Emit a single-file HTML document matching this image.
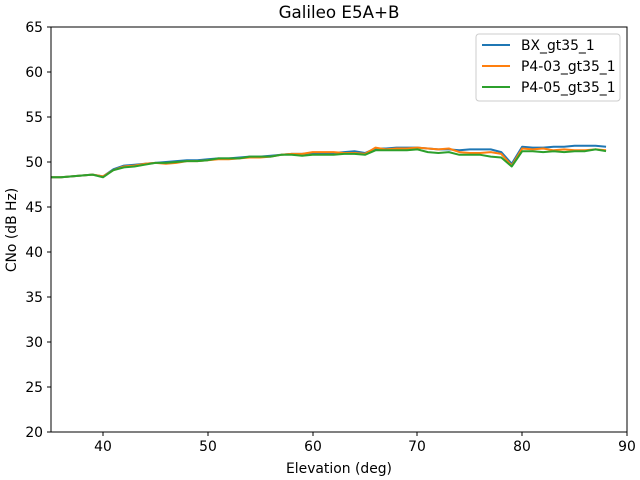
<!DOCTYPE html>
<html><head><meta charset="utf-8"><style>body{margin:0;background:#fff}svg{display:block}text{font-family:"DejaVu Sans","Liberation Sans",sans-serif}</style></head><body>
<svg width="640" height="480" viewBox="0 0 640 480">
<rect width="640" height="480" fill="#fff"/>
<text x="339" y="18" font-size="16.7" text-anchor="middle">Galileo E5A+B</text>
<g fill="none" stroke-width="2" stroke-linejoin="round">
<g transform="translate(103,432) scale(10.48,-9) translate(-40,-20)">
<polyline vector-effect="non-scaling-stroke" stroke="#1f77b4" points="35,48.3 36,48.3 37,48.4 38,48.5 39,48.6 40,48.4 41,49.2 42,49.6 43,49.7 44,49.8 45,49.9 46,50 47,50.1 48,50.2 49,50.2 50,50.3 51,50.4 52,50.4 53,50.5 54,50.6 55,50.6 56,50.7 57,50.8 58,50.9 59,50.9 60,51 61,51 62,51 63,51.1 64,51.2 65,51 66,51.5 67,51.5 68,51.6 69,51.6 70,51.6 71,51.5 72,51.4 73,51.4 74,51.3 75,51.4 76,51.4 77,51.4 78,51.1 79,49.8 80,51.7 81,51.6 82,51.6 83,51.7 84,51.7 85,51.8 86,51.8 87,51.8 88,51.7"/>
<polyline vector-effect="non-scaling-stroke" stroke="#ff7f0e" points="35,48.3 36,48.3 37,48.4 38,48.5 39,48.6 40,48.4 41,49.1 42,49.5 43,49.6 44,49.8 45,49.9 46,49.8 47,49.9 48,50.1 49,50.1 50,50.2 51,50.3 52,50.3 53,50.4 54,50.5 55,50.5 56,50.6 57,50.8 58,50.9 59,50.9 60,51.1 61,51.1 62,51.1 63,51 64,51 65,50.9 66,51.6 67,51.4 68,51.5 69,51.5 70,51.6 71,51.5 72,51.4 73,51.5 74,51.1 75,51.0 76,51.0 77,51.1 78,50.9 79,49.6 80,51.5 81,51.4 82,51.5 83,51.3 84,51.4 85,51.3 86,51.3 87,51.4 88,51.3"/>
<polyline vector-effect="non-scaling-stroke" stroke="#2ca02c" points="35,48.3 36,48.3 37,48.4 38,48.5 39,48.6 40,48.3 41,49.1 42,49.4 43,49.5 44,49.7 45,49.9 46,49.9 47,50 48,50.1 49,50.1 50,50.2 51,50.4 52,50.4 53,50.4 54,50.6 55,50.6 56,50.6 57,50.8 58,50.8 59,50.7 60,50.8 61,50.8 62,50.8 63,50.9 64,50.9 65,50.8 66,51.3 67,51.3 68,51.3 69,51.3 70,51.4 71,51.1 72,51.0 73,51.1 74,50.8 75,50.8 76,50.8 77,50.6 78,50.5 79,49.5 80,51.2 81,51.2 82,51.1 83,51.2 84,51.1 85,51.2 86,51.2 87,51.4 88,51.2"/>
</g></g>
<rect x="51" y="27" width="576" height="405" fill="none" stroke="#000" stroke-width="1"/>
<g stroke="#000" stroke-width="1">
<line x1="103" y1="432" x2="103" y2="436"/><line x1="208" y1="432" x2="208" y2="436"/><line x1="313" y1="432" x2="313" y2="436"/><line x1="417" y1="432" x2="417" y2="436"/><line x1="522" y1="432" x2="522" y2="436"/><line x1="627" y1="432" x2="627" y2="436"/>
<line x1="47" y1="27" x2="51" y2="27"/><line x1="47" y1="72" x2="51" y2="72"/><line x1="47" y1="117" x2="51" y2="117"/><line x1="47" y1="162" x2="51" y2="162"/><line x1="47" y1="207" x2="51" y2="207"/><line x1="47" y1="252" x2="51" y2="252"/><line x1="47" y1="297" x2="51" y2="297"/><line x1="47" y1="342" x2="51" y2="342"/><line x1="47" y1="387" x2="51" y2="387"/><line x1="47" y1="432" x2="51" y2="432"/>
</g>
<g font-size="13.9" text-anchor="middle">
<text x="103" y="451">40</text><text x="208" y="451">50</text><text x="313" y="451">60</text><text x="417" y="451">70</text><text x="522" y="451">80</text><text x="627" y="451">90</text>
<text x="339" y="473">Elevation (deg)</text>
</g>
<g font-size="13.9" text-anchor="end">
<text x="43" y="32">65</text><text x="43" y="77">60</text><text x="43" y="122">55</text><text x="43" y="167">50</text><text x="43" y="212">45</text><text x="43" y="257">40</text><text x="43" y="302">35</text><text x="43" y="347">30</text><text x="43" y="392">25</text><text x="43" y="437">20</text>
</g>
<text transform="translate(16,230) rotate(-90)" font-size="13.9" text-anchor="middle">CNo (dB Hz)</text>
<rect x="476" y="34" width="144" height="67" rx="3" fill="#fff" stroke="#ccc"/>
<line x1="482" y1="45" x2="510" y2="45" stroke="#1f77b4" stroke-width="2"/>
<line x1="482" y1="66" x2="510" y2="66" stroke="#ff7f0e" stroke-width="2"/>
<line x1="482" y1="87" x2="510" y2="87" stroke="#2ca02c" stroke-width="2"/>
<g font-size="13.9"><text x="521" y="50">BX_gt35_1</text><text x="521" y="71">P4-03_gt35_1</text><text x="521" y="92">P4-05_gt35_1</text></g>
</svg>
</body></html>
